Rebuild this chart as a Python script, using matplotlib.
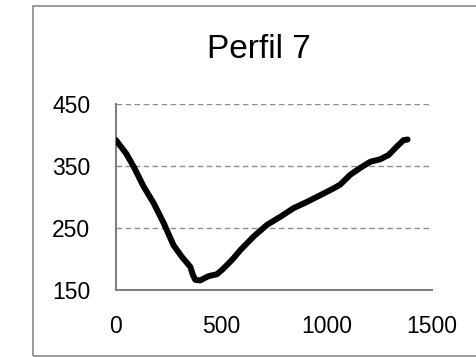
import matplotlib
matplotlib.use("Agg")
import matplotlib.pyplot as plt
from matplotlib.patches import Rectangle

# Profile 7: distance along the section vs elevation
distance = [0, 49, 84, 131, 179, 226, 273, 313, 353, 365, 376, 400, 416, 440,
            479, 503, 527, 558, 590, 653, 717, 780, 843, 906, 970, 1033, 1064,
            1112, 1159, 1207, 1254, 1294, 1334, 1365, 1384]
elevation = [392, 370, 349, 317, 290, 258, 222, 203, 187, 174, 166, 165, 168, 172,
             175, 182, 190, 201, 214, 236, 255, 268, 282, 292, 303, 314, 320,
             336, 347, 357, 361, 368, 382, 392, 393]

title = "Perfil 7"
x_ticks = [0, 500, 1000, 1500]
y_ticks = [150, 250, 350, 450]

plt.rcParams['font.family'] = ['Liberation Sans', 'DejaVu Sans']

W, H = 477, 357
fig = plt.figure(figsize=(W / 100, H / 100), dpi=100)

# outer chart frame
fig.patches.append(Rectangle((33 / W, 1 / H), 1.2, (350 / H), transform=fig.transFigure,
                             fill=False, edgecolor='#8a8a8a', linewidth=1.2))

ax = fig.add_axes([116 / W, (H - 289.7) / H, (432 - 116) / W, (289.7 - 104.3) / H])
ax.plot(distance, elevation, color='black', linewidth=4.3, solid_capstyle='round',
        solid_joinstyle='round', zorder=3)

ax.set_xlim(0, 1500)
ax.set_ylim(150, 450)
ax.set_xticks(x_ticks)
ax.set_yticks(y_ticks)
ax.tick_params(length=0, labelsize=16.5, colors='black')
ax.tick_params(axis='y', pad=18.5)
ax.tick_params(axis='x', pad=18)

for s in ['top', 'right']:
    ax.spines[s].set_visible(False)
for s in ['left', 'bottom']:
    ax.spines[s].set_color('#808080')
    ax.spines[s].set_linewidth(1.5)

for v in y_ticks[1:]:
    ax.axhline(v, color='#8c8c8c', linewidth=1.0, linestyle=(0, (4, 2.5)), zorder=1)

fig.text(259 / W, (H - 50) / H, title, ha='center', va='center', fontsize=24)

fig.savefig("out.png", dpi=100)
